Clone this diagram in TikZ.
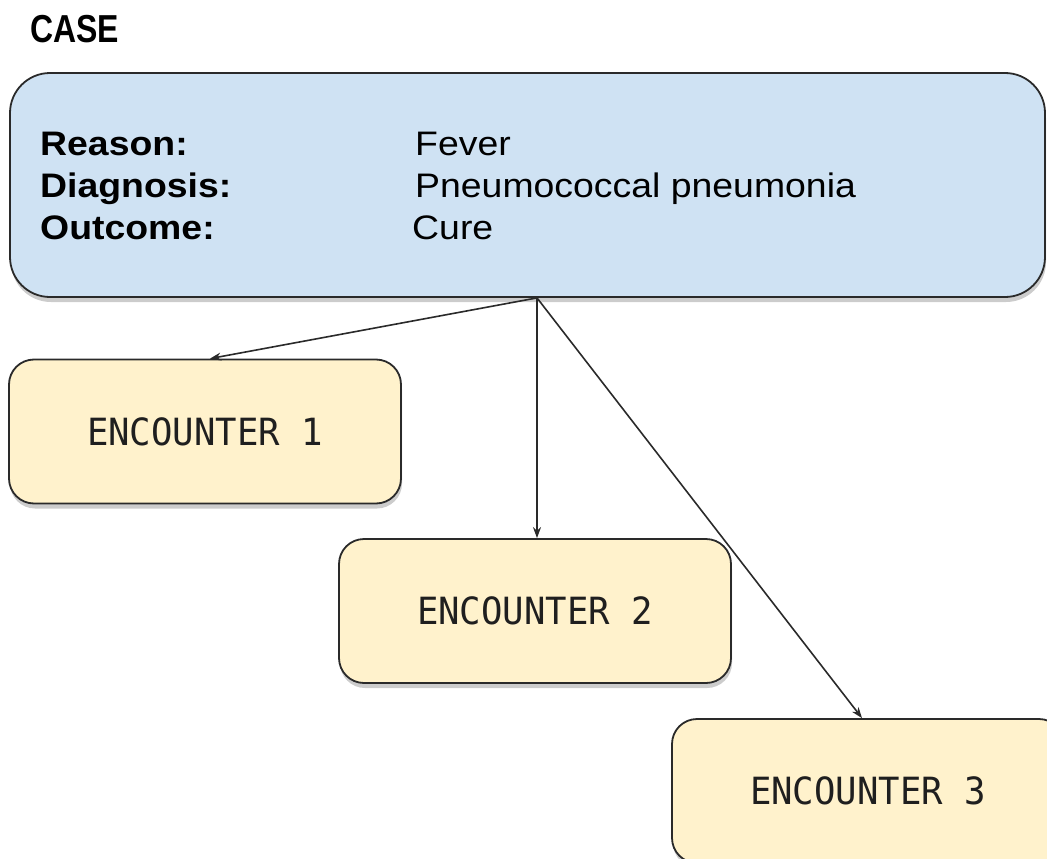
\documentclass[tikz,border=0pt]{standalone}
\usepackage{fontspec}
\setmainfont{Liberation Sans}
\newfontfamily\boxfont[FakeStretch=1.1]{Liberation Sans}
\newfontfamily\casefont[FakeStretch=0.82]{Liberation Sans}
\newfontfamily\encfont[FakeStretch=0.95]{DejaVu Sans Mono}
\usetikzlibrary{arrows.meta,shadows}
\definecolor{caseblue}{HTML}{CFE2F3}
\definecolor{encyellow}{HTML}{FFF2CC}
\definecolor{edgegray}{HTML}{2A2A2A}
\tikzset{
  boxshadow/.style={drop shadow={shadow xshift=1pt, shadow yshift=-5pt, opacity=0.2, fill=black}},
  casebox/.style={draw=edgegray, line width=1.8pt, fill=caseblue, rounded corners=40pt,
    minimum width=1035pt, minimum height=224pt, inner sep=0pt, boxshadow},
  encbox/.style={draw=edgegray, line width=1.8pt, fill=encyellow, rounded corners=25pt,
    minimum width=392pt, minimum height=144pt, inner sep=0pt, boxshadow,
    font=\encfont\fontsize{37.5}{42}\selectfont, text=black!88},
  lbl/.style={anchor=base west, inner sep=0pt, font=\boxfont\bfseries\fontsize{34}{40}\selectfont},
  val/.style={anchor=base west, inner sep=0pt, font=\boxfont\fontsize{34}{40}\selectfont},
  title/.style={anchor=base west, inner sep=0pt, font=\casefont\bfseries\fontsize{39}{44}\selectfont},
  conn/.style={draw=edgegray, line width=1.6pt, -{Stealth[length=11pt,width=8pt]}}
}
\begin{document}
\begin{tikzpicture}[x=1pt,y=-1pt]
\useasboundingbox (0,0) rectangle (1047,859);
\clip (0,0) rectangle (1047,859);
\node[title] (casetitle) at (30,43) {CASE};
\node[casebox] (case) at (527.5,185) {};
\node[lbl] (lreason) at (40,155) {Reason:};
\node[lbl] (ldiag) at (40,197) {Diagnosis:};
\node[lbl] (lout) at (40,239) {Outcome:};
\node[val] (vreason) at (415,155) {Fever};
\node[val] (vdiag) at (415,197) {Pneumococcal pneumonia};
\node[val] (vout) at (412,239) {Cure};
\node[encbox] (enc1) at (205,431.5) {ENCOUNTER 1};
\node[encbox] (enc2) at (535,611) {ENCOUNTER 2};
\node[encbox] (enc3) at (868,791) {ENCOUNTER 3};
\coordinate (o) at ([xshift=9.5pt]case.south);
\draw[conn] (o) -- ([xshift=5pt]enc1.north);
\draw[conn] (o) -- ([xshift=2pt]enc2.north);
\draw[conn] (o) -- ([xshift=-6pt]enc3.north);
\end{tikzpicture}
\end{document}
